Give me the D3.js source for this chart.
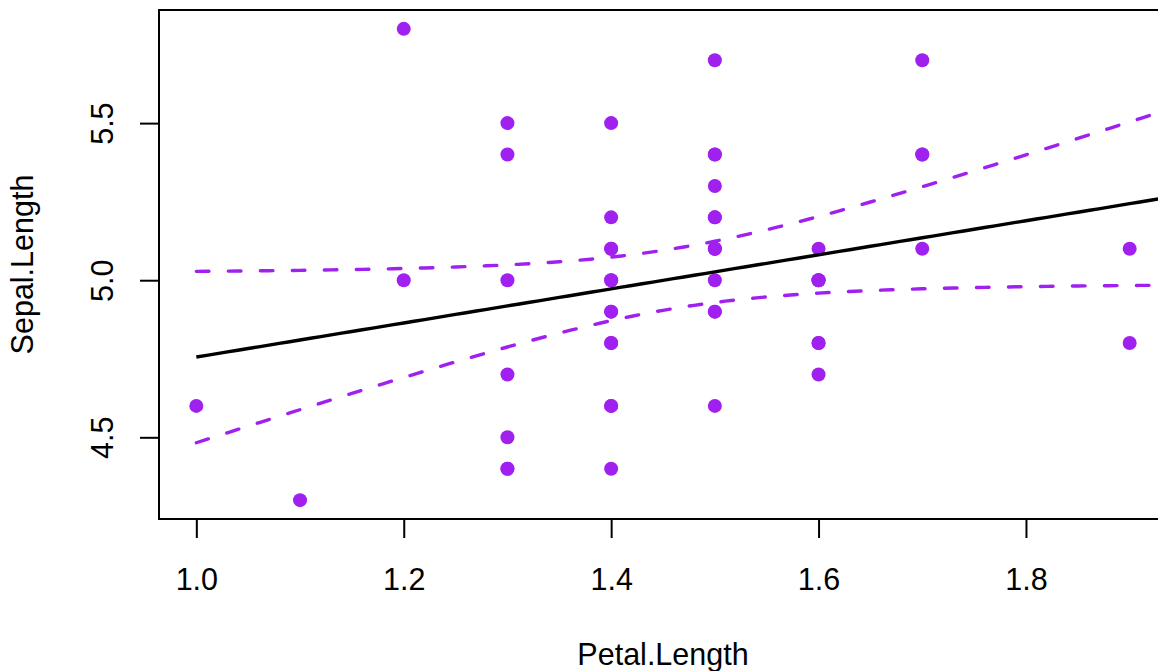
<!DOCTYPE html>
<html>
<head>
<meta charset="utf-8">
<script src="https://cdn.jsdelivr.net/npm/d3@7"></script>
<style>
  html, body { margin: 0; padding: 0; background: #fff; }
  svg { display: block; }
  text { font-family: "Liberation Sans", Arial, Helvetica, sans-serif; fill: #000; }
</style>
</head>
<body>
<script>
// Iris setosa measurements
const petalLength = [1.4,1.4,1.3,1.5,1.4,1.7,1.4,1.5,1.4,1.5,1.5,1.6,1.4,1.1,1.2,1.5,1.3,1.4,1.7,1.5,
                     1.7,1.5,1.0,1.7,1.9,1.6,1.6,1.5,1.4,1.6,1.6,1.5,1.5,1.4,1.5,1.2,1.3,1.4,1.3,1.5,
                     1.3,1.3,1.3,1.6,1.9,1.4,1.6,1.4,1.5,1.4];
const sepalLength = [5.1,4.9,4.7,4.6,5.0,5.4,4.6,5.0,4.4,4.9,5.4,4.8,4.8,4.3,5.8,5.7,5.4,5.1,5.7,5.1,
                     5.4,5.1,4.6,5.1,4.8,5.0,5.0,5.2,5.2,4.7,4.8,5.4,5.2,5.5,4.9,5.0,5.5,4.9,4.4,5.1,
                     5.0,4.5,4.4,5.0,5.1,4.8,5.1,4.6,5.3,5.0];
const xTicks = [1.0, 1.2, 1.4, 1.6, 1.8];
const yTicks = [4.5, 5.0, 5.5];
const xTitle = "Petal.Length";
const yTitle = "Sepal.Length";
const zCrit = 1.959964; // normal 97.5% quantile for the 95% band

const W = 1158, H = 671;
const plot = { left: 159, top: 10, right: 1167, bottom: 519 };
const pointColor = "#A020F0";
const fontSize = 30.5;

// Axis domains padded by 4% on each side
function padded(vals) {
  const [a, b] = d3.extent(vals);
  const p = (b - a) * 0.04;
  return [a - p, b + p];
}

const x = d3.scaleLinear().domain(padded(petalLength)).range([plot.left, plot.right]);
const y = d3.scaleLinear().domain(padded(sepalLength)).range([plot.bottom, plot.top]);

// Least-squares fit with 95% confidence band for the mean
const n = petalLength.length;
const mx = d3.mean(petalLength), my = d3.mean(sepalLength);
let sxx = 0, sxy = 0;
for (let i = 0; i < n; i++) {
  sxx += (petalLength[i] - mx) ** 2;
  sxy += (petalLength[i] - mx) * (sepalLength[i] - my);
}
const slope = sxy / sxx, intercept = my - slope * mx;
let sse = 0;
for (let i = 0; i < n; i++) sse += (sepalLength[i] - intercept - slope * petalLength[i]) ** 2;
const s = Math.sqrt(sse / (n - 2));

const gridX = d3.range(0, 101).map(i => 1.0 + i * 0.01);
const band = gridX.map(v => {
  const fit = intercept + slope * v;
  const se = s * Math.sqrt(1 / n + (v - mx) ** 2 / sxx);
  return { x: v, fit, lo: fit - zCrit * se, hi: fit + zCrit * se };
});

const svg = d3.select("body").append("svg").attr("width", W).attr("height", H);

svg.append("defs").append("clipPath").attr("id", "plotclip")
  .append("rect")
  .attr("x", plot.left).attr("y", plot.top)
  .attr("width", plot.right - plot.left).attr("height", plot.bottom - plot.top);

const inner = svg.append("g").attr("clip-path", "url(#plotclip)");

// Points
inner.selectAll("circle.pt")
  .data(petalLength.map((p, i) => [p, sepalLength[i]]))
  .join("circle")
  .attr("class", "pt")
  .attr("cx", d => x(d[0]))
  .attr("cy", d => y(d[1]))
  .attr("r", 7)
  .attr("fill", pointColor);

// Fitted line
const fitLine = d3.line().x(d => x(d.x)).y(d => y(d.fit));
inner.append("path")
  .datum(band)
  .attr("d", fitLine)
  .attr("fill", "none")
  .attr("stroke", "#000")
  .attr("stroke-width", 3.4);

// Confidence limits
["lo", "hi"].forEach(k => {
  inner.append("path")
    .datum(band)
    .attr("d", d3.line().x(d => x(d.x)).y(d => y(d[k])))
    .attr("fill", "none")
    .attr("stroke", pointColor)
    .attr("stroke-width", 3.4)
    .attr("stroke-linecap", "round")
    .attr("stroke-dasharray", "12.6,19.4");
});

// Frame
svg.append("rect")
  .attr("x", plot.left).attr("y", plot.top)
  .attr("width", plot.right - plot.left).attr("height", plot.bottom - plot.top)
  .attr("fill", "none").attr("stroke", "#000").attr("stroke-width", 2);

// Axes
const xAxis = d3.axisBottom(x).tickValues(xTicks).tickSize(19).tickPadding(0)
  .tickFormat(d3.format(".1f"));
const gx = svg.append("g").attr("transform", `translate(0,${plot.bottom})`).call(xAxis);
gx.select(".domain").remove();
gx.selectAll(".tick line").attr("stroke", "#000").attr("stroke-width", 2);
gx.selectAll(".tick text")
  .attr("y", 71).attr("dy", null)
  .style("font-size", fontSize + "px")
  .style("font-family", "'Liberation Sans', Arial, sans-serif");

const yAxis = d3.axisLeft(y).tickValues(yTicks).tickSize(19).tickPadding(0)
  .tickFormat(d3.format(".1f"));
const gy = svg.append("g").attr("transform", `translate(${plot.left},0)`).call(yAxis);
gy.select(".domain").remove();
gy.selectAll(".tick line").attr("stroke", "#000").attr("stroke-width", 2);
gy.selectAll(".tick text")
  .attr("x", null).attr("dy", null)
  .attr("text-anchor", "middle")
  .attr("transform", "translate(-46,0) rotate(-90)")
  .style("font-size", fontSize + "px")
  .style("font-family", "'Liberation Sans', Arial, sans-serif");

// Titles
svg.append("text")
  .attr("x", (plot.left + plot.right) / 2).attr("y", 665)
  .attr("text-anchor", "middle")
  .style("font-size", fontSize + "px")
  .text(xTitle);

svg.append("text")
  .attr("transform", `translate(33,${(plot.top + plot.bottom) / 2}) rotate(-90)`)
  .attr("text-anchor", "middle")
  .style("font-size", fontSize + "px")
  .text(yTitle);
</script>
</body>
</html>
